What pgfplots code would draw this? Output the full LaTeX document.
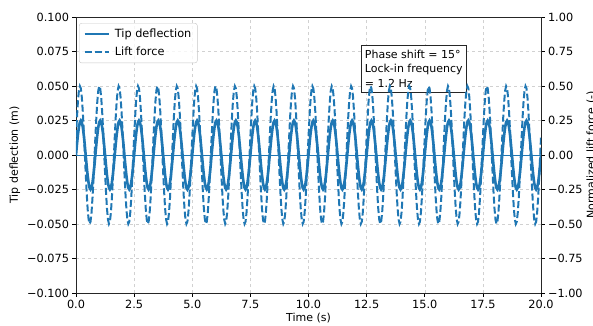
\documentclass[border=0pt]{standalone}
\usepackage{pgfplots}
\pgfplotsset{compat=1.18}
\usepackage{pgfplotstable}
\usepackage{fontspec}
\setmainfont{DejaVu Sans}
\definecolor{tabblue}{HTML}{1F77B4}

\pgfplotstableread[row sep=\\]{
t s l\\
0 0 0.129\\ 0.042 0.0077 0.272\\ 0.083 0.0147 0.389\\ 0.125 0.0202 0.467\\ 0.167 0.0238 0.499\\ 0.208 0.025 0.483\\ 0.25 0.0238 0.419\\ 0.292 0.0202 0.315\\ 0.333 0.0147 0.179\\ 0.375 0.0077 0.026\\ 0.417 0 -0.129\\ 0.458 -0.0077 -0.272\\ 0.5 -0.0147 -0.389\\ 0.542 -0.0202 -0.467\\ 0.583 -0.0238 -0.499\\ 0.625 -0.025 -0.483\\ 0.667 -0.0238 -0.419\\ 0.708 -0.0202 -0.315\\ 0.75 -0.0147 -0.179\\ 0.792 -0.0077 -0.026\\
0.833 0 0.129\\ 0.875 0.0077 0.272\\ 0.917 0.0147 0.389\\ 0.958 0.0202 0.467\\ 1 0.0238 0.499\\ 1.042 0.025 0.483\\ 1.083 0.0238 0.419\\ 1.125 0.0202 0.315\\ 1.167 0.0147 0.179\\ 1.208 0.0077 0.026\\ 1.25 0 -0.129\\ 1.292 -0.0077 -0.272\\ 1.333 -0.0147 -0.389\\ 1.375 -0.0202 -0.467\\ 1.417 -0.0238 -0.499\\ 1.458 -0.025 -0.483\\ 1.5 -0.0238 -0.419\\ 1.542 -0.0202 -0.315\\ 1.583 -0.0147 -0.179\\ 1.625 -0.0077 -0.026\\
1.667 0 0.129\\ 1.708 0.0077 0.272\\ 1.75 0.0147 0.389\\ 1.792 0.0202 0.467\\ 1.833 0.0238 0.499\\ 1.875 0.025 0.483\\ 1.917 0.0238 0.419\\ 1.958 0.0202 0.315\\ 2 0.0147 0.179\\ 2.042 0.0077 0.026\\ 2.083 0 -0.129\\ 2.125 -0.0077 -0.272\\ 2.167 -0.0147 -0.389\\ 2.208 -0.0202 -0.467\\ 2.25 -0.0238 -0.499\\ 2.292 -0.025 -0.483\\ 2.333 -0.0238 -0.419\\ 2.375 -0.0202 -0.315\\ 2.417 -0.0147 -0.179\\ 2.458 -0.0077 -0.026\\
2.5 0 0.129\\ 2.542 0.0077 0.272\\ 2.583 0.0147 0.389\\ 2.625 0.0202 0.467\\ 2.667 0.0238 0.499\\ 2.708 0.025 0.483\\ 2.75 0.0238 0.419\\ 2.792 0.0202 0.315\\ 2.833 0.0147 0.179\\ 2.875 0.0077 0.026\\ 2.917 0 -0.129\\ 2.958 -0.0077 -0.272\\ 3 -0.0147 -0.389\\ 3.042 -0.0202 -0.467\\ 3.083 -0.0238 -0.499\\ 3.125 -0.025 -0.483\\ 3.167 -0.0238 -0.419\\ 3.208 -0.0202 -0.315\\ 3.25 -0.0147 -0.179\\ 3.292 -0.0077 -0.026\\
3.333 0 0.129\\ 3.375 0.0077 0.272\\ 3.417 0.0147 0.389\\ 3.458 0.0202 0.467\\ 3.5 0.0238 0.499\\ 3.542 0.025 0.483\\ 3.583 0.0238 0.419\\ 3.625 0.0202 0.315\\ 3.667 0.0147 0.179\\ 3.708 0.0077 0.026\\ 3.75 0 -0.129\\ 3.792 -0.0077 -0.272\\ 3.833 -0.0147 -0.389\\ 3.875 -0.0202 -0.467\\ 3.917 -0.0238 -0.499\\ 3.958 -0.025 -0.483\\ 4 -0.0238 -0.419\\ 4.042 -0.0202 -0.315\\ 4.083 -0.0147 -0.179\\ 4.125 -0.0077 -0.026\\
4.167 0 0.129\\ 4.208 0.0077 0.272\\ 4.25 0.0147 0.389\\ 4.292 0.0202 0.467\\ 4.333 0.0238 0.499\\ 4.375 0.025 0.483\\ 4.417 0.0238 0.419\\ 4.458 0.0202 0.315\\ 4.5 0.0147 0.179\\ 4.542 0.0077 0.026\\ 4.583 0 -0.129\\ 4.625 -0.0077 -0.272\\ 4.667 -0.0147 -0.389\\ 4.708 -0.0202 -0.467\\ 4.75 -0.0238 -0.499\\ 4.792 -0.025 -0.483\\ 4.833 -0.0238 -0.419\\ 4.875 -0.0202 -0.315\\ 4.917 -0.0147 -0.179\\ 4.958 -0.0077 -0.026\\
5 0 0.129\\ 5.042 0.0077 0.272\\ 5.083 0.0147 0.389\\ 5.125 0.0202 0.467\\ 5.167 0.0238 0.499\\ 5.208 0.025 0.483\\ 5.25 0.0238 0.419\\ 5.292 0.0202 0.315\\ 5.333 0.0147 0.179\\ 5.375 0.0077 0.026\\ 5.417 0 -0.129\\ 5.458 -0.0077 -0.272\\ 5.5 -0.0147 -0.389\\ 5.542 -0.0202 -0.467\\ 5.583 -0.0238 -0.499\\ 5.625 -0.025 -0.483\\ 5.667 -0.0238 -0.419\\ 5.708 -0.0202 -0.315\\ 5.75 -0.0147 -0.179\\ 5.792 -0.0077 -0.026\\
5.833 0 0.129\\ 5.875 0.0077 0.272\\ 5.917 0.0147 0.389\\ 5.958 0.0202 0.467\\ 6 0.0238 0.499\\ 6.042 0.025 0.483\\ 6.083 0.0238 0.419\\ 6.125 0.0202 0.315\\ 6.167 0.0147 0.179\\ 6.208 0.0077 0.026\\ 6.25 0 -0.129\\ 6.292 -0.0077 -0.272\\ 6.333 -0.0147 -0.389\\ 6.375 -0.0202 -0.467\\ 6.417 -0.0238 -0.499\\ 6.458 -0.025 -0.483\\ 6.5 -0.0238 -0.419\\ 6.542 -0.0202 -0.315\\ 6.583 -0.0147 -0.179\\ 6.625 -0.0077 -0.026\\
6.667 0 0.129\\ 6.708 0.0077 0.272\\ 6.75 0.0147 0.389\\ 6.792 0.0202 0.467\\ 6.833 0.0238 0.499\\ 6.875 0.025 0.483\\ 6.917 0.0238 0.419\\ 6.958 0.0202 0.315\\ 7 0.0147 0.179\\ 7.042 0.0077 0.026\\ 7.083 0 -0.129\\ 7.125 -0.0077 -0.272\\ 7.167 -0.0147 -0.389\\ 7.208 -0.0202 -0.467\\ 7.25 -0.0238 -0.499\\ 7.292 -0.025 -0.483\\ 7.333 -0.0238 -0.419\\ 7.375 -0.0202 -0.315\\ 7.417 -0.0147 -0.179\\ 7.458 -0.0077 -0.026\\
7.5 0 0.129\\ 7.542 0.0077 0.272\\ 7.583 0.0147 0.389\\ 7.625 0.0202 0.467\\ 7.667 0.0238 0.499\\ 7.708 0.025 0.483\\ 7.75 0.0238 0.419\\ 7.792 0.0202 0.315\\ 7.833 0.0147 0.179\\ 7.875 0.0077 0.026\\ 7.917 0 -0.129\\ 7.958 -0.0077 -0.272\\ 8 -0.0147 -0.389\\ 8.042 -0.0202 -0.467\\ 8.083 -0.0238 -0.499\\ 8.125 -0.025 -0.483\\ 8.167 -0.0238 -0.419\\ 8.208 -0.0202 -0.315\\ 8.25 -0.0147 -0.179\\ 8.292 -0.0077 -0.026\\
8.333 0 0.129\\ 8.375 0.0077 0.272\\ 8.417 0.0147 0.389\\ 8.458 0.0202 0.467\\ 8.5 0.0238 0.499\\ 8.542 0.025 0.483\\ 8.583 0.0238 0.419\\ 8.625 0.0202 0.315\\ 8.667 0.0147 0.179\\ 8.708 0.0077 0.026\\ 8.75 0 -0.129\\ 8.792 -0.0077 -0.272\\ 8.833 -0.0147 -0.389\\ 8.875 -0.0202 -0.467\\ 8.917 -0.0238 -0.499\\ 8.958 -0.025 -0.483\\ 9 -0.0238 -0.419\\ 9.042 -0.0202 -0.315\\ 9.083 -0.0147 -0.179\\ 9.125 -0.0077 -0.026\\
9.167 0 0.129\\ 9.208 0.0077 0.272\\ 9.25 0.0147 0.389\\ 9.292 0.0202 0.467\\ 9.333 0.0238 0.499\\ 9.375 0.025 0.483\\ 9.417 0.0238 0.419\\ 9.458 0.0202 0.315\\ 9.5 0.0147 0.179\\ 9.542 0.0077 0.026\\ 9.583 0 -0.129\\ 9.625 -0.0077 -0.272\\ 9.667 -0.0147 -0.389\\ 9.708 -0.0202 -0.467\\ 9.75 -0.0238 -0.499\\ 9.792 -0.025 -0.483\\ 9.833 -0.0238 -0.419\\ 9.875 -0.0202 -0.315\\ 9.917 -0.0147 -0.179\\ 9.958 -0.0077 -0.026\\
10 0 0.129\\ 10.042 0.0077 0.272\\ 10.083 0.0147 0.389\\ 10.125 0.0202 0.467\\ 10.167 0.0238 0.499\\ 10.208 0.025 0.483\\ 10.25 0.0238 0.419\\ 10.292 0.0202 0.315\\ 10.333 0.0147 0.179\\ 10.375 0.0077 0.026\\ 10.417 0 -0.129\\ 10.458 -0.0077 -0.272\\ 10.5 -0.0147 -0.389\\ 10.542 -0.0202 -0.467\\ 10.583 -0.0238 -0.499\\ 10.625 -0.025 -0.483\\ 10.667 -0.0238 -0.419\\ 10.708 -0.0202 -0.315\\ 10.75 -0.0147 -0.179\\ 10.792 -0.0077 -0.026\\
10.833 0 0.129\\ 10.875 0.0077 0.272\\ 10.917 0.0147 0.389\\ 10.958 0.0202 0.467\\ 11 0.0238 0.499\\ 11.042 0.025 0.483\\ 11.083 0.0238 0.419\\ 11.125 0.0202 0.315\\ 11.167 0.0147 0.179\\ 11.208 0.0077 0.026\\ 11.25 0 -0.129\\ 11.292 -0.0077 -0.272\\ 11.333 -0.0147 -0.389\\ 11.375 -0.0202 -0.467\\ 11.417 -0.0238 -0.499\\ 11.458 -0.025 -0.483\\ 11.5 -0.0238 -0.419\\ 11.542 -0.0202 -0.315\\ 11.583 -0.0147 -0.179\\ 11.625 -0.0077 -0.026\\
11.667 0 0.129\\ 11.708 0.0077 0.272\\ 11.75 0.0147 0.389\\ 11.792 0.0202 0.467\\ 11.833 0.0238 0.499\\ 11.875 0.025 0.483\\ 11.917 0.0238 0.419\\ 11.958 0.0202 0.315\\ 12 0.0147 0.179\\ 12.042 0.0077 0.026\\ 12.083 0 -0.129\\ 12.125 -0.0077 -0.272\\ 12.167 -0.0147 -0.389\\ 12.208 -0.0202 -0.467\\ 12.25 -0.0238 -0.499\\ 12.292 -0.025 -0.483\\ 12.333 -0.0238 -0.419\\ 12.375 -0.0202 -0.315\\ 12.417 -0.0147 -0.179\\ 12.458 -0.0077 -0.026\\
12.5 0 0.129\\ 12.542 0.0077 0.272\\ 12.583 0.0147 0.389\\ 12.625 0.0202 0.467\\ 12.667 0.0238 0.499\\ 12.708 0.025 0.483\\ 12.75 0.0238 0.419\\ 12.792 0.0202 0.315\\ 12.833 0.0147 0.179\\ 12.875 0.0077 0.026\\ 12.917 0 -0.129\\ 12.958 -0.0077 -0.272\\ 13 -0.0147 -0.389\\ 13.042 -0.0202 -0.467\\ 13.083 -0.0238 -0.499\\ 13.125 -0.025 -0.483\\ 13.167 -0.0238 -0.419\\ 13.208 -0.0202 -0.315\\ 13.25 -0.0147 -0.179\\ 13.292 -0.0077 -0.026\\
13.333 0 0.129\\ 13.375 0.0077 0.272\\ 13.417 0.0147 0.389\\ 13.458 0.0202 0.467\\ 13.5 0.0238 0.499\\ 13.542 0.025 0.483\\ 13.583 0.0238 0.419\\ 13.625 0.0202 0.315\\ 13.667 0.0147 0.179\\ 13.708 0.0077 0.026\\ 13.75 0 -0.129\\ 13.792 -0.0077 -0.272\\ 13.833 -0.0147 -0.389\\ 13.875 -0.0202 -0.467\\ 13.917 -0.0238 -0.499\\ 13.958 -0.025 -0.483\\ 14 -0.0238 -0.419\\ 14.042 -0.0202 -0.315\\ 14.083 -0.0147 -0.179\\ 14.125 -0.0077 -0.026\\
14.167 0 0.129\\ 14.208 0.0077 0.272\\ 14.25 0.0147 0.389\\ 14.292 0.0202 0.467\\ 14.333 0.0238 0.499\\ 14.375 0.025 0.483\\ 14.417 0.0238 0.419\\ 14.458 0.0202 0.315\\ 14.5 0.0147 0.179\\ 14.542 0.0077 0.026\\ 14.583 0 -0.129\\ 14.625 -0.0077 -0.272\\ 14.667 -0.0147 -0.389\\ 14.708 -0.0202 -0.467\\ 14.75 -0.0238 -0.499\\ 14.792 -0.025 -0.483\\ 14.833 -0.0238 -0.419\\ 14.875 -0.0202 -0.315\\ 14.917 -0.0147 -0.179\\ 14.958 -0.0077 -0.026\\
15 0 0.129\\ 15.042 0.0077 0.272\\ 15.083 0.0147 0.389\\ 15.125 0.0202 0.467\\ 15.167 0.0238 0.499\\ 15.208 0.025 0.483\\ 15.25 0.0238 0.419\\ 15.292 0.0202 0.315\\ 15.333 0.0147 0.179\\ 15.375 0.0077 0.026\\ 15.417 0 -0.129\\ 15.458 -0.0077 -0.272\\ 15.5 -0.0147 -0.389\\ 15.542 -0.0202 -0.467\\ 15.583 -0.0238 -0.499\\ 15.625 -0.025 -0.483\\ 15.667 -0.0238 -0.419\\ 15.708 -0.0202 -0.315\\ 15.75 -0.0147 -0.179\\ 15.792 -0.0077 -0.026\\
15.833 0 0.129\\ 15.875 0.0077 0.272\\ 15.917 0.0147 0.389\\ 15.958 0.0202 0.467\\ 16 0.0238 0.499\\ 16.042 0.025 0.483\\ 16.083 0.0238 0.419\\ 16.125 0.0202 0.315\\ 16.167 0.0147 0.179\\ 16.208 0.0077 0.026\\ 16.25 0 -0.129\\ 16.292 -0.0077 -0.272\\ 16.333 -0.0147 -0.389\\ 16.375 -0.0202 -0.467\\ 16.417 -0.0238 -0.499\\ 16.458 -0.025 -0.483\\ 16.5 -0.0238 -0.419\\ 16.542 -0.0202 -0.315\\ 16.583 -0.0147 -0.179\\ 16.625 -0.0077 -0.026\\
16.667 0 0.129\\ 16.708 0.0077 0.272\\ 16.75 0.0147 0.389\\ 16.792 0.0202 0.467\\ 16.833 0.0238 0.499\\ 16.875 0.025 0.483\\ 16.917 0.0238 0.419\\ 16.958 0.0202 0.315\\ 17 0.0147 0.179\\ 17.042 0.0077 0.026\\ 17.083 0 -0.129\\ 17.125 -0.0077 -0.272\\ 17.167 -0.0147 -0.389\\ 17.208 -0.0202 -0.467\\ 17.25 -0.0238 -0.499\\ 17.292 -0.025 -0.483\\ 17.333 -0.0238 -0.419\\ 17.375 -0.0202 -0.315\\ 17.417 -0.0147 -0.179\\ 17.458 -0.0077 -0.026\\
17.5 0 0.129\\ 17.542 0.0077 0.272\\ 17.583 0.0147 0.389\\ 17.625 0.0202 0.467\\ 17.667 0.0238 0.499\\ 17.708 0.025 0.483\\ 17.75 0.0238 0.419\\ 17.792 0.0202 0.315\\ 17.833 0.0147 0.179\\ 17.875 0.0077 0.026\\ 17.917 0 -0.129\\ 17.958 -0.0077 -0.272\\ 18 -0.0147 -0.389\\ 18.042 -0.0202 -0.467\\ 18.083 -0.0238 -0.499\\ 18.125 -0.025 -0.483\\ 18.167 -0.0238 -0.419\\ 18.208 -0.0202 -0.315\\ 18.25 -0.0147 -0.179\\ 18.292 -0.0077 -0.026\\
18.333 0 0.129\\ 18.375 0.0077 0.272\\ 18.417 0.0147 0.389\\ 18.458 0.0202 0.467\\ 18.5 0.0238 0.499\\ 18.542 0.025 0.483\\ 18.583 0.0238 0.419\\ 18.625 0.0202 0.315\\ 18.667 0.0147 0.179\\ 18.708 0.0077 0.026\\ 18.75 0 -0.129\\ 18.792 -0.0077 -0.272\\ 18.833 -0.0147 -0.389\\ 18.875 -0.0202 -0.467\\ 18.917 -0.0238 -0.499\\ 18.958 -0.025 -0.483\\ 19 -0.0238 -0.419\\ 19.042 -0.0202 -0.315\\ 19.083 -0.0147 -0.179\\ 19.125 -0.0077 -0.026\\
19.167 0 0.129\\ 19.208 0.0077 0.272\\ 19.25 0.0147 0.389\\ 19.292 0.0202 0.467\\ 19.333 0.0238 0.499\\ 19.375 0.025 0.483\\ 19.417 0.0238 0.419\\ 19.458 0.0202 0.315\\ 19.5 0.0147 0.179\\ 19.542 0.0077 0.026\\ 19.583 0 -0.129\\ 19.625 -0.0077 -0.272\\ 19.667 -0.0147 -0.389\\ 19.708 -0.0202 -0.467\\ 19.75 -0.0238 -0.499\\ 19.792 -0.025 -0.483\\ 19.833 -0.0238 -0.419\\ 19.875 -0.0202 -0.315\\ 19.917 -0.0147 -0.179\\ 19.958 -0.0077 -0.026\\
20 0 0.129\\
}\datatable

\begin{document}
\begin{tikzpicture}[font=\fontsize{11}{13}\selectfont]
\pgfplotsset{
  myax/.style={
    at={(0pt,0pt)}, anchor=south west,
    scale only axis, width=465pt, height=276pt,
    xmin=0, xmax=20,
    tick align=outside, major tick length=3.5pt,
    tick style={black, line width=0.7pt},
    axis line style={black!85, line width=0.7pt},
    tick label style={font=\fontsize{11.3}{13}\selectfont},
    label style={font=\fontsize{11}{13}\selectfont},
  },
}
\begin{axis}[myax,
  ymin=-0.1, ymax=0.1,
  xtick={0,2.5,5,7.5,10,12.5,15,17.5,20},
  xticklabels={0.0,2.5,5.0,7.5,10.0,12.5,15.0,17.5,20.0},
  ytick={-0.1,-0.075,-0.05,-0.025,0,0.025,0.05,0.075,0.1},
  yticklabels={−0.100,−0.075,−0.050,−0.025,0.000,0.025,0.050,0.075,0.100},
  xtick pos=left, ytick pos=left,
  grid=major, grid style={dashed, black!18, line width=0.5pt},
  xlabel={Time (s)}, ylabel={Tip deflection (m)},
  xlabel style={yshift=2pt},
]
\addplot[tabblue, line width=0.9pt, forget plot] coordinates {(0,0) (20,0)};
\addplot[tabblue, line width=2.6pt] table[x=t, y=s] {\datatable};
\node[draw=black!85, fill=white, align=left, anchor=north west, inner xsep=3.5pt, inner ysep=4.5pt,
      line width=0.7pt, font=\fontsize{11}{14.6}\selectfont]
  at (axis cs:12.26,0.0797) {Phase shift = 15°\\Lock-in frequency\\= 1.2 Hz};
\end{axis}
\begin{axis}[myax,
  ymin=-1, ymax=1,
  axis x line=none, axis y line*=right,
  ytick={-1,-0.75,-0.5,-0.25,0,0.25,0.5,0.75,1},
  yticklabels={−1.00,−0.75,−0.50,−0.25,0.00,0.25,0.50,0.75,1.00},
  ylabel={Normalized lift force (-)},
  ylabel shift=-3pt,
  legend cell align=left,
  legend style={at={(0.0065,0.978)}, anchor=north west,
    draw=black!22, rounded corners=2.5pt, fill=white, fill opacity=0.8, text opacity=1,
    inner xsep=4pt, inner ysep=3.5pt, row sep=4.5pt,
    font=\fontsize{11.3}{13}\selectfont,
    /tikz/every odd column/.append style={column sep=3pt}},
  legend image code/.code={\draw[#1] (0pt,0pt) -- (24pt,0pt);},
]
\addlegendimage{tabblue, line width=2.6pt}
\addlegendentry{Tip deflection}
\addplot[tabblue, line width=2pt, dash pattern=on 7pt off 3pt] table[x=t, y=l] {\datatable};
\addlegendentry{Lift force}
\end{axis}
\pgfresetboundingbox
\useasboundingbox (-76pt,-32pt) rectangle (517pt,293pt);
\end{tikzpicture}
\end{document}
